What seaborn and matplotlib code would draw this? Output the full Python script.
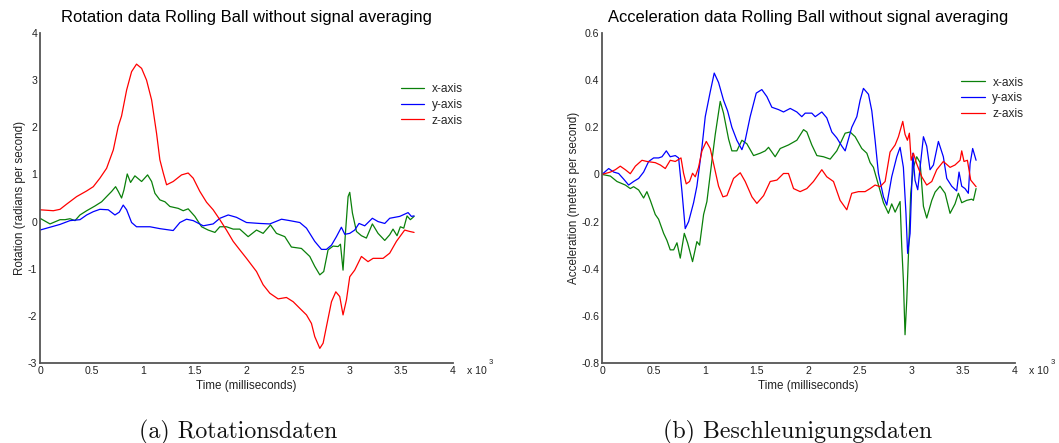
import numpy as np
import pandas as pd
import seaborn as sns
import matplotlib
matplotlib.use("Agg")
import matplotlib.pyplot as plt
from matplotlib.ticker import FixedLocator, FuncFormatter

# ---------------- Rotation (rad/s) ----------------
rot_x_t = [0, 97, 194, 242, 290, 339, 387, 452, 532, 597, 645, 694, 732, 758, 790, 813,
           845, 877, 919, 984, 1042, 1081, 1113, 1161, 1210, 1258, 1339, 1387, 1435, 1500,
           1565, 1629, 1694, 1742, 1806, 1871, 1935, 2016, 2097, 2161, 2232, 2290, 2371,
           2435, 2532, 2613, 2661, 2710, 2748, 2790, 2839, 2887, 2910, 2935, 2958, 2984,
           3000, 3026, 3065, 3113, 3161, 3219, 3274, 3339, 3387, 3419, 3458, 3490, 3523,
           3555, 3587, 3623]
rot_x = [0.07, -0.05, 0.04, 0.04, 0.06, 0.02, 0.14, 0.23, 0.33, 0.42, 0.53, 0.64, 0.74,
         0.64, 0.50, 0.67, 1.01, 0.83, 0.97, 0.85, 0.99, 0.85, 0.60, 0.46, 0.42, 0.32,
         0.28, 0.23, 0.27, 0.11, -0.11, -0.18, -0.23, -0.11, -0.11, -0.16, -0.16, -0.32,
         -0.18, -0.25, -0.07, -0.25, -0.32, -0.54, -0.57, -0.74, -0.95, -1.13, -1.06,
         -0.60, -0.52, -0.53, -0.48, -1.03, -0.25, 0.53, 0.62, 0.18, -0.21, -0.30, -0.35,
         -0.05, -0.25, -0.40, -0.28, -0.16, -0.30, -0.11, -0.14, 0.12, 0.04, 0.11]

rot_y_t = [0, 97, 194, 290, 387, 452, 516, 580, 661, 726, 768, 806, 839, 887, 935, 1065,
           1161, 1290, 1355, 1419, 1484, 1581, 1677, 1742, 1823, 1903, 2000, 2129, 2226,
           2339, 2419, 2516, 2581, 2661, 2726, 2774, 2823, 2871, 2919, 2952, 3000, 3048,
           3090, 3145, 3219, 3274, 3339, 3387, 3484, 3565, 3597, 3623]
rot_y = [-0.18, -0.12, -0.06, 0.02, 0.04, 0.14, 0.21, 0.26, 0.25, 0.14, 0.20, 0.35, 0.25,
         -0.02, -0.11, -0.11, -0.15, -0.19, -0.02, 0.05, 0.02, -0.09, -0.05, 0.07, 0.14,
         0.09, -0.02, -0.04, -0.05, 0.05, 0.02, -0.02, -0.14, -0.42, -0.59, -0.59, -0.50,
         -0.32, -0.12, -0.27, -0.25, -0.18, -0.04, -0.09, 0.07, 0.00, -0.04, 0.07, 0.11,
         0.19, 0.11, 0.12]

rot_z_t = [0, 129, 194, 258, 355, 452, 516, 580, 645, 710, 758, 790, 839, 887, 935, 984,
           1032, 1081, 1129, 1161, 1194, 1226, 1290, 1371, 1435, 1484, 1548, 1613, 1677,
           1742, 1806, 1871, 1935, 2000, 2097, 2161, 2226, 2306, 2387, 2452, 2516, 2581,
           2629, 2661, 2710, 2742, 2774, 2823, 2865, 2903, 2935, 2968, 3000, 3048, 3113,
           3177, 3226, 3323, 3387, 3452, 3532, 3581, 3623]
rot_z = [0.25, 0.23, 0.26, 0.37, 0.53, 0.65, 0.74, 0.92, 1.13, 1.52, 2.02, 2.24, 2.79,
         3.18, 3.34, 3.25, 3.00, 2.58, 1.87, 1.31, 1.03, 0.78, 0.85, 0.99, 1.03, 0.92,
         0.64, 0.41, 0.25, 0.04, -0.18, -0.42, -0.60, -0.78, -1.06, -1.34, -1.52, -1.64,
         -1.61, -1.70, -1.84, -1.98, -2.16, -2.44, -2.69, -2.58, -2.23, -1.70, -1.49,
         -1.59, -1.98, -1.66, -1.17, -1.03, -0.74, -0.85, -0.78, -0.78, -0.67, -0.42,
         -0.18, -0.21, -0.23]

# ---------------- Acceleration ----------------
acc_x_t = [0, 81, 145, 226, 274, 306, 355, 403, 435, 468, 516, 548, 597, 629, 661, 694,
           726, 758, 797, 829, 877, 919, 945, 984, 1016, 1065, 1097, 1145, 1177, 1226,
           1258, 1306, 1355, 1403, 1468, 1532, 1581, 1613, 1677, 1726, 1806, 1887, 1952,
           1984, 2032, 2081, 2145, 2210, 2274, 2355, 2403, 2452, 2516, 2565, 2597, 2629,
           2694, 2726, 2774, 2806, 2839, 2887, 2903, 2919, 2935, 2952, 2968, 2990, 3016,
           3048, 3081, 3113, 3145, 3194, 3226, 3274, 3323, 3371, 3419, 3452, 3484, 3532,
           3581, 3597, 3623]
acc_x = [0.0, -0.007, -0.03, -0.045, -0.06, -0.052, -0.066, -0.10, -0.073, -0.11, -0.17,
         -0.19, -0.25, -0.28, -0.32, -0.32, -0.29, -0.355, -0.25, -0.29, -0.37, -0.285,
         -0.30, -0.17, -0.115, 0.06, 0.17, 0.31, 0.26, 0.15, 0.10, 0.10, 0.145, 0.13,
         0.08, 0.09, 0.10, 0.115, 0.075, 0.11, 0.125, 0.145, 0.19, 0.18, 0.125, 0.08,
         0.075, 0.065, 0.10, 0.175, 0.18, 0.16, 0.11, 0.09, 0.05, 0.03, -0.07, -0.12,
         -0.165, -0.125, -0.16, -0.115, -0.305, -0.45, -0.68, -0.53, -0.34, -0.08, 0.03,
         0.075, 0.05, -0.135, -0.185, -0.11, -0.075, -0.05, -0.08, -0.165, -0.125, -0.08,
         -0.12, -0.11, -0.105, -0.11, -0.06]

acc_y_t = [0, 65, 113, 161, 210, 258, 306, 355, 403, 452, 500, 548, 581, 623, 661, 710,
           742, 774, 806, 839, 887, 919, 968, 1000, 1048, 1087, 1129, 1177, 1216, 1258,
           1306, 1355, 1387, 1435, 1494, 1548, 1597, 1645, 1710, 1758, 1823, 1887, 1935,
           1968, 2032, 2065, 2129, 2177, 2226, 2274, 2323, 2355, 2419, 2468, 2500, 2532,
           2581, 2613, 2645, 2677, 2726, 2758, 2806, 2855, 2887, 2919, 2944, 2960, 2984,
           3010, 3032, 3058, 3081, 3113, 3145, 3177, 3210, 3258, 3306, 3339, 3387, 3435,
           3458, 3484, 3516, 3548, 3565, 3590, 3623]
acc_y = [0.0, 0.025, 0.01, 0.004, -0.02, -0.045, -0.03, -0.017, 0.01, 0.055, 0.07, 0.07,
         0.075, 0.10, 0.075, 0.08, 0.07, -0.07, -0.23, -0.20, -0.12, -0.05, 0.115, 0.245,
         0.35, 0.43, 0.39, 0.315, 0.27, 0.20, 0.145, 0.105, 0.145, 0.245, 0.345, 0.36,
         0.33, 0.285, 0.275, 0.265, 0.28, 0.265, 0.245, 0.26, 0.26, 0.245, 0.265, 0.24,
         0.18, 0.155, 0.12, 0.10, 0.20, 0.245, 0.315, 0.365, 0.34, 0.27, 0.145, 0.005,
         -0.095, -0.13, -0.01, 0.075, 0.115, 0.03, -0.165, -0.335, -0.25, 0.09, -0.025,
         -0.065, 0.03, 0.16, 0.12, 0.02, 0.04, 0.14, 0.075, -0.017, -0.05, -0.07, 0.01,
         -0.05, -0.06, -0.08, 0.045, 0.11, 0.06]

acc_z_t = [0, 81, 129, 177, 226, 274, 323, 387, 435, 516, 565, 613, 661, 710, 765, 790,
           816, 848, 877, 903, 935, 968, 1010, 1048, 1081, 1129, 1171, 1210, 1274, 1339,
           1387, 1452, 1500, 1565, 1629, 1694, 1758, 1806, 1855, 1919, 1984, 2048, 2129,
           2177, 2242, 2306, 2371, 2419, 2484, 2548, 2597, 2645, 2694, 2742, 2790, 2839,
           2871, 2913, 2935, 2958, 2977, 2994, 3016, 3048, 3097, 3145, 3194, 3242, 3306,
           3371, 3419, 3468, 3484, 3506, 3539, 3571, 3623]
acc_z = [0.0, 0.01, 0.02, 0.035, 0.02, 0.003, 0.035, 0.06, 0.055, 0.05, 0.04, 0.025,
         0.06, 0.055, 0.07, 0.005, -0.04, -0.03, 0.005, -0.01, 0.03, 0.10, 0.14, 0.11,
         0.045, -0.05, -0.095, -0.09, -0.017, 0.007, -0.03, -0.095, -0.123, -0.09, -0.03,
         -0.024, 0.004, 0.004, -0.06, -0.073, -0.06, -0.03, 0.02, -0.01, -0.03, -0.11,
         -0.15, -0.08, -0.073, -0.073, -0.06, -0.045, -0.052, -0.03, 0.095, 0.125, 0.16,
         0.225, 0.17, 0.145, 0.175, 0.06, 0.09, 0.045, -0.01, -0.045, -0.03, 0.02, 0.055,
         0.03, 0.04, 0.06, 0.10, 0.055, 0.06, -0.024, -0.052]

series_names = ["x-axis", "y-axis", "z-axis"]
palette = {"x-axis": "#0a800a", "y-axis": "#0000ff", "z-axis": "#ff0000"}

panel_titles = ["Rotation data Rolling Ball without signal averaging",
                "Acceleration data Rolling Ball without signal averaging"]
y_labels = ["Rotation (radians per second)", "Acceleration (meters per second)"]
x_label = "Time (milliseconds)"
captions = ["(a) Rotationsdaten", "(b) Beschleunigungsdaten"]

x_ticks = [0, 500, 1000, 1500, 2000, 2500, 3000, 3500, 4000]
rot_ticks = [-3, -2, -1, 0, 1, 2, 3, 4]
acc_ticks = [-0.8, -0.6, -0.4, -0.2, 0, 0.2, 0.4, 0.6]


def long_frame(parts):
    frames = []
    for name, (t, v) in zip(series_names, parts):
        frames.append(pd.DataFrame({"time": t, "value": v, "series": name}))
    return pd.concat(frames, ignore_index=True)


rot_df = long_frame([(rot_x_t, rot_x), (rot_y_t, rot_y), (rot_z_t, rot_z)])
acc_df = long_frame([(acc_x_t, acc_x), (acc_y_t, acc_y), (acc_z_t, acc_z)])

sns.set_theme(style="white")
plt.rcParams["font.family"] = ["Liberation Sans", "DejaVu Sans"]

fig = plt.figure(figsize=(10.59, 4.43), dpi=100)
W, H = 1059, 443
axes = [fig.add_axes([40 / W, 80 / H, 413 / W, 330 / H]),
        fig.add_axes([602 / W, 80 / H, 413 / W, 330 / H])]
legend_anchor = [(0.873, 0.847), (0.870, 0.868)]
caption_x = [238, 798]


def num_fmt(v, _pos):
    s = ("%.1f" % v) if abs(v - round(v)) > 1e-9 else "%d" % round(v)
    return s.replace("\u2212", "-")


for i, (ax, df, yt) in enumerate(zip(axes, [rot_df, acc_df], [rot_ticks, acc_ticks])):
    sns.lineplot(data=df, x="time", y="value", hue="series", hue_order=series_names,
                 palette=palette, estimator=None, sort=False, linewidth=0.9, ax=ax)
    ax.set_xlim(0, 4000)
    ax.set_ylim(yt[0], yt[-1])
    ax.xaxis.set_major_locator(FixedLocator(x_ticks))
    ax.xaxis.set_major_formatter(FuncFormatter(lambda v, p: num_fmt(v / 1000, p)))
    ax.yaxis.set_major_locator(FixedLocator(yt))
    ax.yaxis.set_major_formatter(FuncFormatter(num_fmt))
    ax.tick_params(direction="in", length=4, width=1, color="#444444", pad=2,
                   labelsize=7.6, labelcolor="#222222")
    for s in ["top", "right"]:
        ax.spines[s].set_visible(False)
    for s in ["left", "bottom"]:
        ax.spines[s].set_color("#555555")
        ax.spines[s].set_linewidth(1.3)
    ax.set_title(panel_titles[i], fontsize=11.9, color="#000000", pad=8)
    ax.set_xlabel(x_label, fontsize=8.4, color="#222222", labelpad=3)
    ax.set_ylabel(y_labels[i], fontsize=8.4, color="#222222", labelpad=1)
    ax.text(1.033, -0.025, "x 10", transform=ax.transAxes, fontsize=7.6,
            color="#222222", ha="left", va="center")
    ax.text(1.087, 0.0, "3", transform=ax.transAxes, fontsize=5.5,
            color="#222222", ha="left", va="center")
    ax.legend(loc="upper left", bbox_to_anchor=legend_anchor[i], frameon=False,
              fontsize=8.6, handlelength=2.0, handletextpad=0.6, labelspacing=0.3,
              borderaxespad=0, borderpad=0)
    ax.set_facecolor("white")
    fig.text(caption_x[i] / W, 1 - 432 / H, captions[i],
             family="cmr10", fontsize=17.2, ha="center", va="center", color="#111111")

fig.savefig("out.png", dpi=100, facecolor="white")
